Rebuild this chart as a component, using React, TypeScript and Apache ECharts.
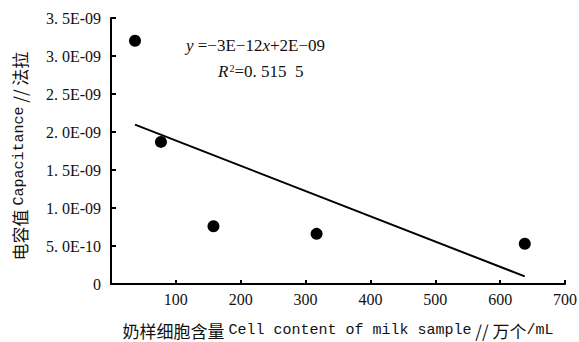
import React, { useEffect, useRef } from "react";
import * as echarts from "echarts";

const cellContent = [37, 77, 158, 317, 638];
const capacitance = [3.2e-9, 1.87e-9, 0.76e-9, 0.66e-9, 0.53e-9];
const yTickLabels = ["0", "5. 0E-10", "1. 0E-09", "1. 5E-09", "2. 0E-09", "2. 5E-09", "3. 0E-09", "3. 5E-09"];
const xTickLabels = ["", "100", "200", "300", "400", "500", "600", "700"];
const equationText = " =−3E−12";
const equationTail = "+2E−09";
const r2Text = "=0. 515  5";

function regression(xs: number[], ys: number[]) {
  const n = xs.length;
  const mx = xs.reduce((a, b) => a + b, 0) / n;
  const my = ys.reduce((a, b) => a + b, 0) / n;
  let sxy = 0, sxx = 0;
  for (let i = 0; i < n; i++) {
    sxy += (xs[i] - mx) * (ys[i] - my);
    sxx += (xs[i] - mx) * (xs[i] - mx);
  }
  const k = sxy / sxx;
  return { k, b: my - k * mx };
}

export default function App() {
  const ref = useRef<HTMLDivElement>(null);
  useEffect(() => {
    if (!ref.current) return;
    const chart = echarts.init(ref.current, undefined, { renderer: "svg" });
    const { k, b } = regression(cellContent, capacitance);
    const x0 = cellContent[0];
    const x1 = cellContent[cellContent.length - 1];
    const serif = "'Liberation Serif', 'Times New Roman', serif";
    const titleRich = {
      c: { fontFamily: "'Noto Sans CJK SC'", fontSize: 17, fill: "#111", color: "#111" },
      m: { fontFamily: "'Liberation Mono', monospace", fontSize: 15, fill: "#111", color: "#111" },
    };
    chart.setOption({
      animation: false,
      backgroundColor: "#fff",
      grid: { left: 111, right: 14, top: 18, bottom: 58, containLabel: false, outerBoundsMode: "none" },
      xAxis: {
        type: "value",
        min: 0,
        max: 700,
        interval: 100,
        axisLine: { lineStyle: { color: "#000", width: 2 } },
        axisTick: { inside: true, length: 4, lineStyle: { color: "#000", width: 2 } },
        splitLine: { show: false },
        axisLabel: {
          color: "#111",
          fontFamily: serif,
          fontSize: 16,
          margin: 7,
          formatter: (v: number) => xTickLabels[Math.round(v / 100)] ?? "",
        },
        name: "{c|奶样细胞含量 }{m|Cell content of milk sample}{c| // 万个}{m|/mL}",
        nameLocation: "middle",
        nameGap: 38,
        nameTextStyle: { rich: titleRich },
      },
      yAxis: {
        type: "value",
        min: 0,
        max: 3.5e-9,
        interval: 0.5e-9,
        axisLine: { show: true, lineStyle: { color: "#000", width: 2 } },
        axisTick: { show: true, inside: true, length: 5, lineStyle: { color: "#000", width: 2 } },
        splitLine: { show: false },
        axisLabel: {
          color: "#111",
          fontFamily: serif,
          fontSize: 16,
          margin: 10,
          formatter: (v: number) => yTickLabels[Math.round(v / 0.5e-9)] ?? "",
        },
      },
      series: [
        {
          type: "scatter",
          data: cellContent.map((x, i) => [x, capacitance[i]]),
          symbol: "circle",
          symbolSize: 12,
          itemStyle: { color: "#000", opacity: 1 },
          z: 3,
        },
        {
          type: "line",
          data: [
            [x0, k * x0 + b],
            [x1, k * x1 + b],
          ],
          showSymbol: false,
          symbol: "none",
          lineStyle: { color: "#000", width: 2 },
          z: 2,
        },
      ],
      graphic: [
        {
          type: "text",
          x: 19,
          y: 156,
          rotation: Math.PI / 2,
          style: {
            text: "{c|电容值 }{m|Capacitance}{c| // 法拉}",
            align: "center",
            verticalAlign: "middle",
            rich: titleRich,
          },
        },
        {
          type: "text",
          left: 186,
          top: 37,
          style: {
            text: `{i|y}{n|${equationText}}{i|x}{n|${equationTail}}`,
            rich: {
              i: { fontFamily: serif, fontStyle: "italic", fontSize: 17, fill: "#111" },
              n: { fontFamily: serif, fontSize: 17, fill: "#111" },
            },
          },
        },
        {
          type: "text",
          left: 218,
          top: 63,
          style: {
            text: `{i|R}{s|2}{n|${r2Text}}`,
            rich: {
              i: { fontFamily: serif, fontStyle: "italic", fontSize: 17, fill: "#111" },
              s: { fontFamily: serif, fontSize: 10, fill: "#111", verticalAlign: "top", padding: [0, 0, 7, 1] },
              n: { fontFamily: serif, fontSize: 17, fill: "#111" },
            },
          },
        },
      ],
    });
    return () => chart.dispose();
  }, []);
  return <div ref={ref} style={{ width: 579, height: 342, position: "absolute", left: 0, top: 0 }} />;
}
